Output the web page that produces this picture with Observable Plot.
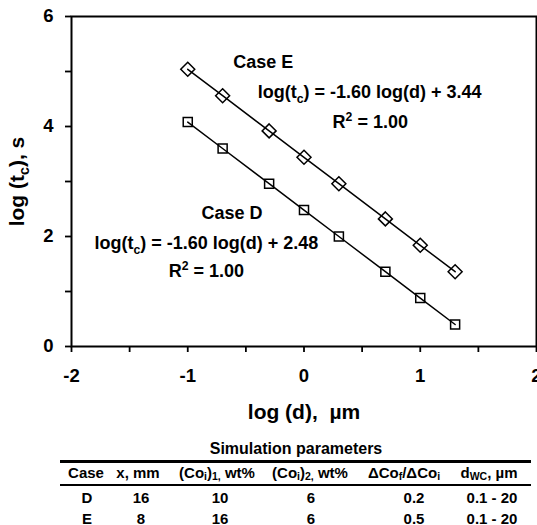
<!DOCTYPE html>
<html><head><meta charset="utf-8">
<script src="https://cdn.jsdelivr.net/npm/d3@7"></script>
<script src="https://cdn.jsdelivr.net/npm/@observablehq/plot@0.6"></script>
<style>
body{margin:0;background:#fff;font-family:"Liberation Sans",Arial,sans-serif;font-weight:bold;color:#000;}
#wrap{position:relative;width:537px;height:525px;overflow:hidden;}
#chart{position:absolute;left:0;top:0;}
.cell{position:absolute;transform:translate(-50%,-50%);white-space:nowrap;font-size:15px;line-height:1;}
.cell sub{font-size:70%;vertical-align:-0.25em;line-height:0;}
.rule{position:absolute;background:#000;}
svg text{white-space:pre;}
</style></head><body><div id="wrap"><div id="chart"></div><div id="table"></div></div>
<script>
// ---- data ----
const logD   = [-1, -0.7, -0.3, 0, 0.3, 0.7, 1, 1.3];
const logTcD = [4.08, 3.60, 2.96, 2.48, 2.00, 1.36, 0.88, 0.40];
const logTcE = [5.04, 4.56, 3.92, 3.44, 2.96, 2.32, 1.84, 1.36];
const cases      = ["D", "E"];
const fitSlope   = [-1.60, -1.60];
const fitInter   = [2.48, 3.44];
const fitR2      = [1.00, 1.00];
const xTicks     = [-2, -1.5, -1, -0.5, 0, 0.5, 1, 1.5, 2];
const xTickLabels= ["-2", "", "-1", "", "0", "", "1", "", "2"];
const yTicks     = [0, 1, 2, 3, 4, 5, 6];
const yTickLabels= ["0", "", "2", "", "4", "", "6"];
const xTitle = "log (d),  \u00b5m";
const yTitle = "log (t_{c}), s";
// table
const tableTitle = "Simulation parameters";
const tableHeads = ["Case", "x, mm", "(Co<sub>i</sub>)<sub>1,</sub> wt%", "(Co<sub>i</sub>)<sub>2,</sub> wt%", "\u0394Co<sub>f</sub>/\u0394Co<sub>i</sub>", "d<sub>WC</sub>, \u00b5m"];
const colX_mm    = [16, 8];
const colCo1     = [10, 16];
const colCo2     = [6, 6];
const colRatio   = ["0.2", "0.5"];
const colDwc     = ["0.1 - 20", "0.1 - 20"];

// ---- build ----
const FONT = "Liberation Sans, Arial, sans-serif";
const rowsD = logD.map((x, i) => ({x, y: logTcD[i]}));
const rowsE = logD.map((x, i) => ({x, y: logTcE[i]}));
const eq = i => `log(t_{c}) = ${fitSlope[i].toFixed(2)} log(d) + ${fitInter[i].toFixed(2)}`;
const r2 = i => `R^{2} = ${fitR2[i].toFixed(2)}`;
// annotation layout (positions in data units)
const notes = [
  {x: -0.62, y: 2.42, text: `Case ${cases[0]}`},
  {x: -0.84, y: 1.87, text: eq(0)},
  {x: -0.84, y: 1.36, text: r2(0)},
  {x: -0.35, y: 5.16, text: `Case ${cases[1]}`},
  {x: 0.565, y: 4.62, text: eq(1)},
  {x: 0.57, y: 4.07, text: r2(1)}
];

const chart = Plot.plot({
  width: 537, height: 435,
  marginLeft: 71, marginRight: 1, marginTop: 16, marginBottom: 89,
  style: {fontFamily: FONT, fontWeight: "bold", fontSize: "18px", background: "white"},
  x: {domain: [-2, 2], label: null},
  y: {domain: [0, 6], label: null},
  marks: [
    Plot.axisX(xTicks, {tickSize: 6, tickPadding: 16, strokeWidth: 1.8, fontSize: 18.5, fontWeight: "bold", fill: "black",
      tickFormat: d => xTickLabels[xTicks.indexOf(d)], label: null}),
    Plot.axisY(yTicks, {tickSize: 6, tickPadding: 12, strokeWidth: 1.8, fontSize: 18.5, fontWeight: "bold", fill: "black",
      tickFormat: d => yTickLabels[yTicks.indexOf(d)], label: null}),
    Plot.frame({stroke: "black", strokeWidth: 2}),
    Plot.line(rowsD, {x: "x", y: "y", stroke: "black", strokeWidth: 1.5}),
    Plot.line(rowsE, {x: "x", y: "y", stroke: "black", strokeWidth: 1.5}),
    Plot.dot(rowsD, {x: "x", y: "y", symbol: "square", r: 5.1, stroke: "black", strokeWidth: 1.5, fill: "none"}),
    Plot.dot(rowsE, {x: "x", y: "y", symbol: "diamond2", r: 6.3, stroke: "black", strokeWidth: 1.5, fill: "none"}),
    Plot.text(notes, {x: "x", y: "y", text: "text", fontSize: 18, fontWeight: "bold", lineAnchor: "middle", fill: "black"}),
    Plot.text([xTitle], {frameAnchor: "bottom", dy: 66, text: d => d, fontSize: 21, fontWeight: "bold", textAnchor: "middle", lineAnchor: "middle", fill: "black"}),
    Plot.text([yTitle], {frameAnchor: "left", dx: -54.5, rotate: -90, text: d => d, fontSize: 21, fontWeight: "bold", textAnchor: "middle", lineAnchor: "middle", fill: "black"})
  ]
});

// convert _{..} and ^{..} to sub/superscript tspans
function richify(root) {
  root.querySelectorAll("text").forEach(el => {
    const s = el.textContent;
    if (!/[_^]\{/.test(s)) return;
    const fs = parseFloat(getComputedStyle(el).fontSize) || 18;
    const parts = s.split(/([_^]\{[^}]*\})/).filter(p => p);
    el.textContent = "";
    let shift = 0;
    for (const p of parts) {
      const m = p.match(/^([_^])\{([^}]*)\}$/);
      const t = document.createElementNS("http://www.w3.org/2000/svg", "tspan");
      if (m) {
        const target = m[1] === "_" ? 0.25 * fs : -0.42 * fs;
        t.setAttribute("dy", target - shift); shift = target;
        t.setAttribute("font-size", (0.68 * fs) + "px");
        t.textContent = m[2];
      } else {
        if (shift !== 0) { t.setAttribute("dy", -shift); shift = 0; }
        t.textContent = p;
      }
      el.appendChild(t);
    }
  });
}
document.getElementById("chart").appendChild(chart);
richify(chart);

// ---- table ----
const tbl = document.getElementById("table");
function cell(html, cx, cy, size) {
  const d = document.createElement("div");
  d.className = "cell"; d.innerHTML = html;
  d.style.left = cx + "px"; d.style.top = cy + "px";
  if (size) d.style.fontSize = size + "px";
  tbl.appendChild(d);
}
function rule(x0, x1, y, h) {
  const d = document.createElement("div");
  d.className = "rule";
  d.style.left = x0 + "px"; d.style.width = (x1 - x0) + "px";
  d.style.top = y + "px"; d.style.height = h + "px";
  tbl.appendChild(d);
}
cell(tableTitle, 296, 449, 16);
rule(60, 531, 460, 3);
const headX = [86, 138, 217, 310, 404, 489];
tableHeads.forEach((h, i) => cell(h, headX[i], 472));
rule(60, 531, 484, 2);
const bodyX = [87, 141, 220, 311, 414, 492];
const rowY = [497, 518];
cases.forEach((c, r) => {
  [c, colX_mm[r], colCo1[r], colCo2[r], colRatio[r], colDwc[r]].forEach((v, i) => cell(String(v), bodyX[i], rowY[r]));
});
</script></body></html>
